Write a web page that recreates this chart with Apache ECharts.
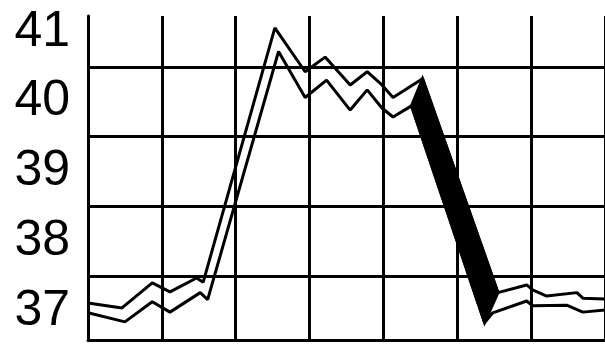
<!DOCTYPE html>
<html>
<head>
<meta charset="utf-8">
<script src="https://cdn.jsdelivr.net/npm/echarts@6/dist/echarts.min.js"></script>
<style>html,body{margin:0;padding:0;background:#fff;}#c{width:605px;height:346px;}</style>
</head>
<body>
<div id="c"></div>
<script>
// Tick labels (temperature)
var yTicks = [37, 38, 39, 40, 41];
// Horizontal grid lines (between labels)
var hLines = [37.5, 38.5, 39.5, 40.5];
// Upper trace [x, value]
var upperX = [0, 0.46, 0.87, 1.11, 1.47, 1.56, 2.53, 2.94, 3.21, 3.55, 3.78, 3.98, 4.13, 4.53, 5.55, 5.94, 6.02, 6.21, 6.62, 6.70, 7.0];
var upperY = [37.11, 37.04, 37.40, 37.27, 37.47, 37.41, 41.06, 40.43, 40.64, 40.24, 40.43, 40.24, 40.06, 40.33, 37.26, 37.37, 37.30, 37.21, 37.26, 37.18, 37.17];
// Lower trace [x, value]
var lowerX = [0, 0.50, 0.87, 1.11, 1.52, 1.62, 2.58, 2.94, 3.23, 3.55, 3.78, 3.98, 4.13, 4.38, 5.37, 5.48, 5.94, 6.02, 6.48, 6.70, 7.0];
var lowerY = [36.97, 36.84, 37.13, 36.98, 37.26, 37.16, 40.72, 40.06, 40.31, 39.88, 40.17, 39.91, 39.78, 39.94, 36.83, 36.97, 37.14, 37.07, 37.08, 36.98, 37.01];
// Filled drop segment: indices into the traces
var bandFrom = 13, bandTo = 14;

function pairs(xs, ys) { return xs.map(function (x, i) { return [x, ys[i]]; }); }
var upper = pairs(upperX, upperY);
var lower = pairs(lowerX, lowerY);
var bandPoly = [upper[bandFrom], upper[bandTo], lower[bandTo], lower[bandFrom]];

var chart = echarts.init(document.getElementById('c'), null, {renderer: 'canvas'});
chart.setOption({
  animation: false,
  backgroundColor: '#fff',
  grid: {left: 88, right: 0, top: 16, bottom: 6},
  xAxis: {
    type: 'value', min: 0, max: 7, interval: 1,
    axisLine: {show: true, onZero: false, lineStyle: {color: '#000', width: 3}},
    axisTick: {show: false},
    axisLabel: {show: false},
    splitLine: {show: true, lineStyle: {color: '#000', width: 3}}
  },
  yAxis: {
    type: 'value', min: 36.58, max: 41.23, splitNumber: 5,
    axisLine: {show: true, lineStyle: {color: '#000', width: 3}},
    axisTick: {show: false},
    splitLine: {show: false},
    axisLabel: {
      color: '#000', fontSize: 50, margin: 18,
      fontFamily: '"Liberation Sans Narrow", "Arial Narrow", "Liberation Sans", sans-serif',
      showMinLabel: false, showMaxLabel: false,
      formatter: function (v) {
        var r = Math.round(v);
        return (Math.abs(v - r) < 1e-6 && yTicks.indexOf(r) >= 0) ? String(r) : '';
      }
    }
  },
  series: [
    {
      type: 'line', data: upper, symbol: 'none', silent: true,
      lineStyle: {color: '#000', width: 3},
      markLine: {
        silent: true, symbol: 'none', label: {show: false},
        lineStyle: {color: '#000', width: 3, type: 'solid'},
        data: hLines.map(function (v) { return {yAxis: v}; })
      }
    },
    {
      type: 'line', data: lower, symbol: 'none', silent: true,
      lineStyle: {color: '#000', width: 3}
    },
    {
      type: 'custom', silent: true,
      data: [0],
      renderItem: function (params, api) {
        var pts = bandPoly.map(function (p) { return api.coord(p); });
        return {type: 'polygon', shape: {points: pts}, style: {fill: '#000', stroke: '#000', lineWidth: 3}};
      }
    }
  ]
});
</script>
</body>
</html>
